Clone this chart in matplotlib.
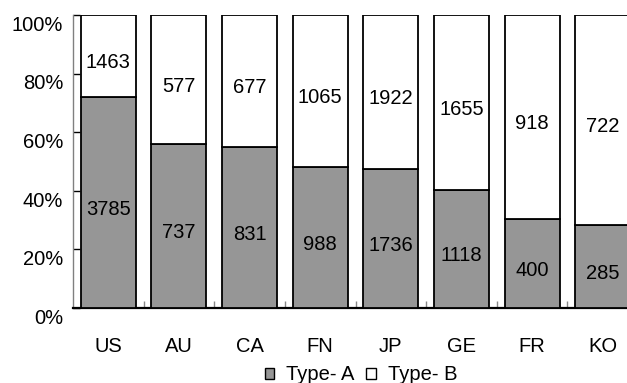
import numpy as np
import matplotlib.pyplot as plt
import matplotlib.transforms as mtransforms
from matplotlib.patches import Patch

plt.rcParams['font.family'] = ['Liberation Sans', 'DejaVu Sans']

# data
countries = ["US", "AU", "CA", "FN", "JP", "GE", "FR", "KO"]
type_a = np.array([3785, 737, 831, 988, 1736, 1118, 400, 285])
type_b = np.array([1463, 577, 677, 1065, 1922, 1655, 918, 722])
yticks = [0, 20, 40, 60, 80, 100]

total = type_a + type_b
pa = type_a / total * 100
pb = type_b / total * 100

fig = plt.figure(figsize=(6.27, 3.83), dpi=100)
ax = fig.add_axes([73/627, 75/383, 565/627, 293/383])

x = np.arange(len(countries))
grey = '#969696'
fs = 14.5
ax.bar(x, pa, width=0.78, color=grey, edgecolor='black', linewidth=1.3, zorder=3)
ax.bar(x, pb, width=0.78, bottom=pa, color='white', edgecolor='black', linewidth=1.3, zorder=3)

# value labels, a little below the middle of each segment like the original
for i in range(len(x)):
    ax.annotate(str(type_a[i]), (x[i], pa[i] / 2), xytext=(0, -5), textcoords='offset points',
                ha='center', va='center', fontsize=fs, zorder=4)
    ax.annotate(str(type_b[i]), (x[i], pa[i] + pb[i] / 2), xytext=(0, -5), textcoords='offset points',
                ha='center', va='center', fontsize=fs, zorder=4)

ax.set_xlim(-0.5, len(x) - 0.5)
ax.set_ylim(0, 100)

ax.set_yticks(yticks)
ax.set_yticklabels([f"{v}%" for v in yticks], fontsize=fs)
ax.tick_params(axis='y', direction='in', length=5, width=1, color='black', pad=7)
offset = mtransforms.ScaledTranslation(0, -6/72, fig.dpi_scale_trans)
for lab in ax.get_yticklabels():
    lab.set_transform(lab.get_transform() + offset)

ax.set_xticks(x)
ax.set_xticklabels(countries, fontsize=fs)
ax.set_xticks(x[:-1] + 0.5, minor=True)
ax.tick_params(axis='x', which='major', length=0, pad=21)
ax.tick_params(axis='x', which='minor', direction='in', length=5, width=1, color='#888888')

for s in ['top', 'right']:
    ax.spines[s].set_visible(False)
ax.spines['left'].set_color('#808080')
ax.spines['left'].set_linewidth(1)
ax.spines['bottom'].set_color('black')
ax.spines['bottom'].set_linewidth(1.6)

handles = [Patch(facecolor=grey, edgecolor='black', linewidth=1),
           Patch(facecolor='white', edgecolor='black', linewidth=1)]
fig.legend(handles, ["Type- A", "Type- B"], loc='center', bbox_to_anchor=(361/627, 1 - 375/383),
           ncol=2, frameon=False, fontsize=fs, handlelength=0.45, handleheight=0.45,
           handletextpad=0.6, columnspacing=0.6, borderpad=0)

fig.savefig("out.png", dpi=100)
